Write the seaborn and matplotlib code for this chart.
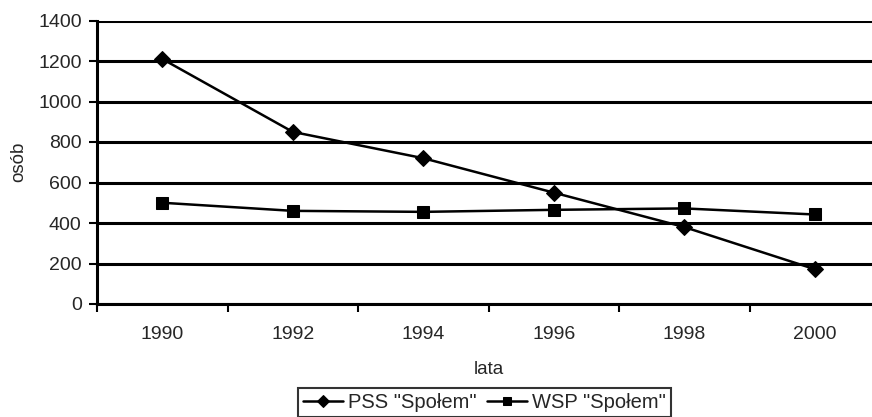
import matplotlib.pyplot as plt
import pandas as pd
import seaborn as sns
import numpy as np

years = ['1990', '1992', '1994', '1996', '1998', '2000']
pss = [1210, 850, 720, 550, 380, 172]
wsp = [500, 460, 455, 465, 472, 442]

df = pd.DataFrame({
    'lata': years * 2,
    'osób': pss + wsp,
    'seria': ['PSS "Społem"'] * len(years) + ['WSP "Społem"'] * len(years),
})

sns.set_style('white')
plt.rcParams['font.family'] = ['Liberation Sans', 'DejaVu Sans']

fig = plt.figure(figsize=(8.72, 4.17), dpi=100)
ax = fig.add_axes([97 / 872, 1 - 304 / 417, 783 / 872, 283.5 / 417])

sns.lineplot(data=df, x='lata', y='osób', hue='seria', style='seria',
             markers={'PSS "Społem"': 'D', 'WSP "Społem"': 's'},
             dashes=False, palette=['black', 'black'], linewidth=1.8,
             markersize=8, markeredgecolor='black', ax=ax, sort=False)

ax.set_ylim(0, 1400)
ax.set_yticks(range(0, 1401, 200))
ax.yaxis.grid(True, color='black', linewidth=2.2)
ax.set_axisbelow(True)
ax.set_xlim(-0.5, len(years) - 0.5)
ax.set_xticks(range(len(years)))
ax.set_xticklabels(years)
ax.set_xticks(np.arange(-0.5, len(years), 1), minor=True)
ax.tick_params(axis='x', which='major', length=0, pad=16, labelsize=14)
ax.tick_params(axis='x', which='minor', length=6, width=1.5, direction='out', color='black', bottom=True)
ax.tick_params(axis='y', length=6, width=1.5, direction='out', color='black', left=True, labelsize=14, pad=5)

for s in ['top', 'right']:
    ax.spines[s].set_visible(False)
for s in ['left', 'bottom']:
    ax.spines[s].set_color('black')
    ax.spines[s].set_linewidth(2.2)

ax.set_xlabel('lata', fontsize=13.5, labelpad=13)
ax.set_ylabel('osób', fontsize=13.5, labelpad=8)

leg = ax.legend(loc='upper left', bbox_to_anchor=(298 / 872, 1 - 388 / 417), bbox_transform=fig.transFigure,
                ncol=2, fontsize=14.5, frameon=True, fancybox=False, edgecolor='black',
                handlelength=2.0, handletextpad=0.25, columnspacing=0.5, borderpad=0.25,
                borderaxespad=0, markerscale=0.75)
leg.get_frame().set_linewidth(1.5)

plt.savefig('out.png', dpi=100)
